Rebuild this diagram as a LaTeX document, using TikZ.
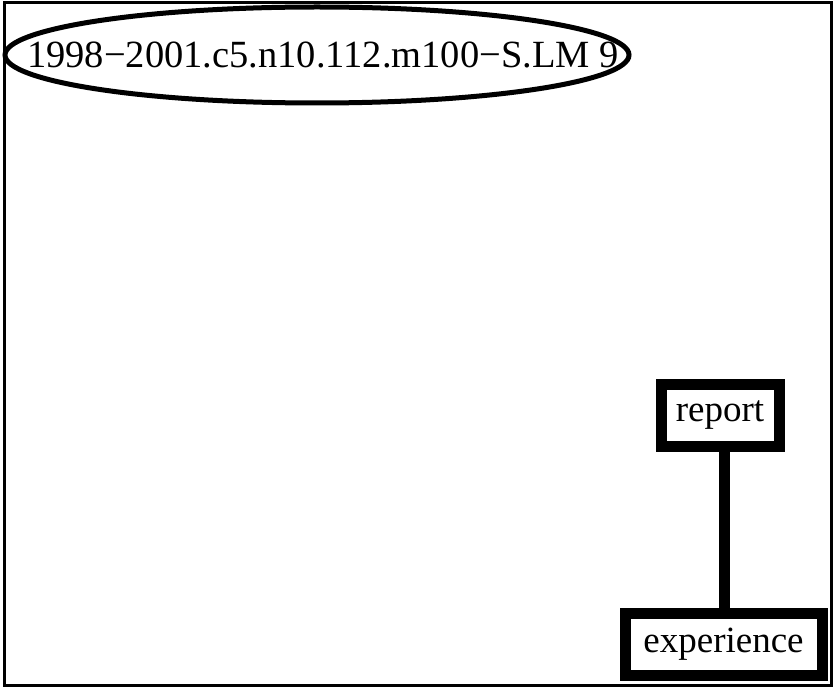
\documentclass[tikz,border=0pt]{standalone}
\usepackage{fontspec}
\setmainfont{Liberation Serif}
\usetikzlibrary{shapes.geometric}
\begin{document}
\begin{tikzpicture}[x=1pt,y=-1pt,
  lbl/.style={font=\fontsize{37}{40}\selectfont, inner sep=0pt},
  oval/.style={ellipse, draw, line width=5pt, inner sep=0pt, font=\fontsize{38.5}{40}\selectfont, minimum width=624pt, minimum height=96pt},
  wordbox/.style={rectangle, draw, line width=11pt, lbl, minimum height=62pt},
  link/.style={line width=11pt}]
  \useasboundingbox (0,0) rectangle (838,687);
  % outer frame
  \draw[line width=3pt] (4,3) rectangle (831,685);
  % title oval; the label is boxed at zero width so the oval keeps its own size
  \node[oval] (title) at (317,55) {\makebox[0pt]{\hspace*{12pt}1998\textminus2001.c5.n10.112.m100\textminus S.LM 9}};
  % word boxes
  \node[wordbox, minimum width=118pt] (report) at (720,415) {report};
  \node[wordbox, minimum width=197pt] (experience) at (723.5,644) {experience};
  \draw[link] (report.south -| 724,0) -- (experience.north -| 724,0);
\end{tikzpicture}
\end{document}
